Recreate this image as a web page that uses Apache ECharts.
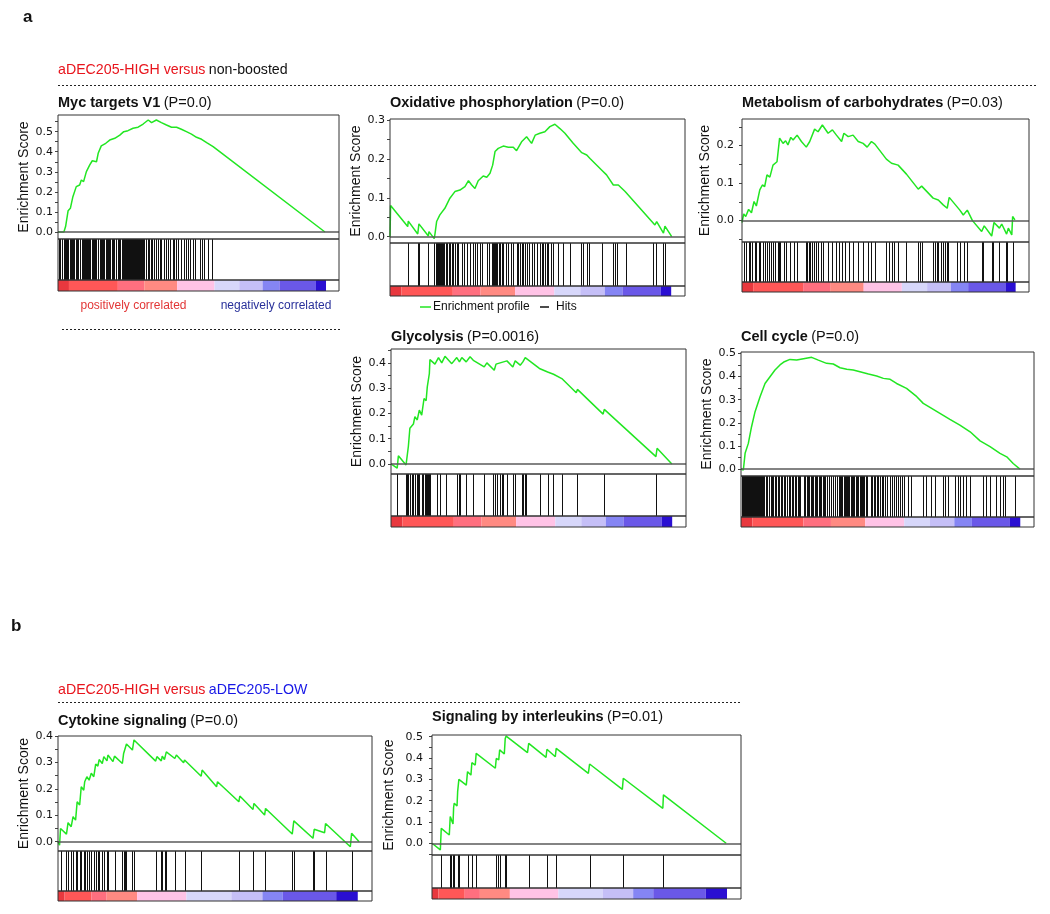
<!DOCTYPE html>
<html>
<head>
<meta charset="utf-8">
<script src="https://cdn.jsdelivr.net/npm/echarts@6/dist/echarts.min.js"></script>
<style>
html,body{margin:0;padding:0;background:#fff;}
#chart{width:1050px;height:914px;}
</style>
</head>
<body>
<div id="chart"></div>
<script>
// ---------------- DATA (x = position in ranked list, % of plot width; y = enrichment score) ----------------
const mycCurve = [[0,0],[2.1,0],[2.7,0.027],[3.6,0.106],[4.4,0.118],[5.3,0.176],[6.5,0.226],[7.7,0.234],[8.3,0.259],[9.1,0.251],[10.1,0.301],[11.3,0.334],[12.2,0.355],[13.7,0.35],[14.3,0.392],[15.4,0.429],[17.0,0.442],[18.4,0.458],[20.2,0.467],[22.0,0.483],[23.4,0.5],[24.9,0.505],[26.7,0.517],[28.5,0.522],[30.3,0.538],[32.1,0.558],[33.3,0.545],[35.0,0.558],[36.8,0.545],[38.6,0.533],[40.4,0.522],[42.2,0.522],[43.9,0.512],[45.7,0.5],[47.5,0.488],[49.3,0.472],[51.1,0.462],[52.9,0.445],[55.2,0.425],[95.0,0]];
const mycHits = [0.4,0.8,1.3,1.6,2.0,2.3,2.5,3.0,3.3,3.5,4.2,4.5,4.9,5.3,5.7,6.3,6.6,7.0,7.7,8.0,8.4,8.8,9.1,9.5,9.9,10.2,10.6,11.1,11.5,12.0,12.3,12.7,13.2,13.7,14.1,14.4,14.8,15.2,15.6,16.1,16.5,17.0,17.4,17.9,18.2,18.6,19.3,19.7,20.1,20.5,20.8,21.2,21.6,22.0,22.7,23.0,23.4,23.8,24.1,24.5,24.8,25.2,25.5,25.9,26.2,26.6,26.9,27.3,27.6,28.0,28.4,28.8,29.1,29.5,29.8,30.3,30.7,31.2,32.0,32.4,33.0,33.6,34.3,35.0,35.5,36.2,36.7,37.9,38.5,39.0,40.0,40.9,41.4,42.1,42.8,43.8,44.7,45.7,46.1,47.1,48.0,48.8,50.4,51.4,52.1,53.5,54.9];

const oxphosCurve = [[0,0],[0.2,0.08],[6.0,0.026],[6.2,0.040],[9.4,0.007],[9.8,0.033],[13.0,0.002],[13.2,0.013],[15.0,-0.005],[15.3,0.01],[15.8,0.039],[16.9,0.056],[18.6,0.073],[20.3,0.099],[22.0,0.116],[23.7,0.12],[25.4,0.129],[26.6,0.144],[27.7,0.133],[28.8,0.124],[29.9,0.144],[31.6,0.156],[32.8,0.153],[33.9,0.163],[34.8,0.184],[35.6,0.219],[36.7,0.227],[38.4,0.233],[40.1,0.23],[41.8,0.23],[42.9,0.221],[44.6,0.244],[46.3,0.257],[48.0,0.24],[49.2,0.261],[50.8,0.266],[52.5,0.27],[54.2,0.283],[55.9,0.289],[57.6,0.278],[59.3,0.266],[62.1,0.24],[65.0,0.216],[66.7,0.21],[67.8,0.201],[71.8,0.171],[73.4,0.159],[75.7,0.133],[77.4,0.133],[79.7,0.116],[89.8,0.03],[90.4,0.039],[92.7,0.009],[93.2,0.027],[95.5,0]];
const oxphosHits = [6.2,9.4,9.8,13.0,15.0,15.5,15.8,16.2,16.5,16.9,17.3,17.6,18.1,18.4,19.0,19.4,19.9,20.3,20.9,21.5,22.0,22.6,23.2,24.3,25.1,26.0,27.1,28.0,28.8,29.6,30.5,31.1,32.8,33.7,34.5,34.8,35.3,35.6,35.9,36.4,36.8,37.3,37.9,38.4,39.3,40.1,40.9,41.8,42.9,43.5,44.1,44.6,45.2,45.8,46.3,47.2,48.0,48.8,49.7,50.8,51.4,52.0,52.5,53.1,53.7,54.5,55.4,57.1,58.8,61.0,64.6,65.3,66.9,67.6,71.8,75.7,76.3,77.1,80.0,89.3,90.2,92.7,93.2];

const metabCurve = [[0,-0.005],[0.6,0.018],[1.3,0.011],[2.3,0.03],[3.3,0.021],[4.2,0.051],[5.0,0.039],[6.2,0.082],[7.1,0.095],[7.9,0.091],[8.7,0.122],[9.7,0.116],[10.8,0.148],[12.2,0.157],[13.1,0.22],[14.3,0.206],[15.2,0.213],[16.0,0.202],[17.0,0.222],[17.8,0.215],[19.2,0.228],[20.7,0.211],[22.4,0.196],[23.6,0.211],[25.3,0.244],[26.5,0.237],[28.0,0.255],[30.0,0.233],[31.5,0.242],[32.9,0.228],[34.7,0.211],[35.5,0.233],[37.0,0.224],[38.7,0.228],[40.5,0.211],[42.2,0.206],[43.6,0.196],[45.1,0.211],[46.3,0.204],[50.3,0.164],[52.1,0.153],[54.4,0.148],[57.3,0.124],[61.4,0.084],[62.6,0.092],[66.6,0.06],[68.4,0.055],[70.1,0.042],[71.5,0.033],[72.2,0.062],[75.9,0.028],[77.1,0.015],[78.5,0.028],[80.3,0],[83.5,-0.029],[84.4,-0.014],[87.0,-0.041],[87.8,-0.005],[89.7,-0.02],[90.5,-0.009],[92.2,-0.036],[92.8,-0.02],[94.0,-0.038],[94.3,0.011],[95.1,0.002]];
const metabHits = [0.6,1.3,2.3,2.9,3.6,4.4,5.0,5.9,6.4,7.3,7.9,8.7,9.3,10.2,10.8,11.6,12.6,12.9,13.1,14.5,15.5,16.6,18.0,19.2,22.2,22.7,23.4,23.8,24.5,25.1,25.7,26.5,27.7,28.3,30.0,31.2,32.7,33.8,34.7,35.8,37.3,38.7,40.5,42.2,44.0,45.1,46.3,50.3,51.3,52.1,52.9,54.4,57.3,61.4,62.0,62.6,66.6,67.2,67.8,68.4,69.2,70.1,70.7,71.3,71.9,74.8,75.9,77.3,78.5,83.5,84.1,87.0,87.6,89.7,92.0,92.2,94.3];

const glycoCurve = [[0,0],[2.1,-0.017],[2.5,0.032],[5.1,-0.004],[5.9,0.071],[6.4,0.141],[7.6,0.158],[8.1,0.187],[8.9,0.174],[9.6,0.213],[10.4,0.193],[11.2,0.259],[11.9,0.25],[12.3,0.305],[13.0,0.358],[13.2,0.413],[14.9,0.395],[16.1,0.421],[17.2,0.4],[18.3,0.426],[20.6,0.397],[22.3,0.421],[23.2,0.404],[24.0,0.421],[25.5,0.404],[26.8,0.424],[27.9,0.41],[31.6,0.384],[32.5,0.4],[35.0,0.371],[35.6,0.395],[37.0,0.4],[39.3,0.408],[41.3,0.384],[42.1,0.408],[43.8,0.391],[44.7,0.404],[45.5,0.421],[50.3,0.378],[53.1,0.364],[55.1,0.355],[57.9,0.338],[62.8,0.282],[63.2,0.295],[71.9,0.197],[72.3,0.216],[89.8,0.029],[90.2,0.062],[95.2,0]];
const glycoHits = [2.1,5.1,5.5,5.9,6.4,7.0,7.6,8.1,8.7,9.3,9.6,10.4,11.0,11.5,11.9,12.3,12.7,13.0,13.2,15.5,16.6,18.7,22.3,22.9,23.4,25.5,27.7,31.6,34.7,35.3,35.9,36.8,37.6,38.1,39.3,41.3,42.1,44.3,44.7,45.5,45.8,50.6,53.1,54.9,57.9,63.0,72.1,89.9];

const cellCurve = [[0,0],[0.8,-0.004],[1.4,0.068],[2.5,0.111],[3.6,0.183],[4.8,0.248],[6.5,0.313],[8.2,0.37],[9.9,0.399],[11.6,0.428],[13.3,0.45],[14.8,0.464],[16.7,0.474],[19.0,0.471],[21.8,0.478],[24.1,0.483],[26.4,0.471],[29.2,0.457],[31.5,0.454],[33.8,0.438],[36.1,0.431],[38.3,0.428],[40.6,0.421],[43.5,0.411],[46.3,0.402],[48.6,0.392],[50.9,0.388],[53.1,0.37],[56.5,0.349],[60.0,0.313],[62.2,0.284],[64.5,0.267],[67.9,0.241],[71.3,0.215],[74.7,0.19],[78.2,0.161],[81.6,0.122],[85.0,0.097],[88.4,0.068],[90.7,0.053],[92.9,0.024],[95.2,0]];
const cellHits = [0.3,0.6,0.9,1.2,1.5,1.8,2.1,2.4,2.7,3.0,3.3,3.6,3.9,4.2,4.5,4.8,5.1,5.4,5.7,6.0,6.3,6.6,6.9,7.2,7.5,7.8,8.4,9.0,9.6,10.1,10.5,11.0,11.6,12.0,12.5,13.1,13.6,14.0,14.6,15.1,15.6,16.3,16.8,17.4,17.9,18.4,18.8,19.3,19.8,20.3,21.5,22.0,22.4,22.9,23.3,23.8,24.2,24.7,25.2,25.6,26.1,26.5,27.0,27.4,27.9,28.3,28.8,29.2,29.9,30.6,31.4,32.2,32.9,33.4,33.8,34.2,34.6,35.0,35.4,35.8,36.2,36.6,37.0,37.4,37.8,38.2,38.6,39.3,39.7,40.1,40.5,40.9,41.3,41.7,42.1,42.5,42.9,44.2,44.7,45.3,45.8,46.4,46.9,47.5,48.0,48.6,49.1,49.7,51.0,51.6,52.3,53.0,53.7,54.4,55.1,55.8,57.0,58.1,62.1,63.3,65.0,66.1,68.9,69.5,70.6,73.0,74.1,74.6,75.8,76.9,78.0,82.6,83.7,84.9,87.1,88.3,89.4,90.0,93.4];

const cytoCurve = [[0,0],[0.5,-0.013],[0.8,0.05],[2.7,0.029],[3.2,0.072],[4.2,0.057],[4.8,0.095],[5.6,0.082],[6.1,0.151],[6.9,0.139],[7.4,0.208],[8.2,0.195],[8.5,0.227],[9.2,0.246],[9.9,0.233],[10.6,0.259],[11.4,0.246],[12.0,0.294],[12.7,0.286],[13.1,0.311],[14.1,0.296],[14.6,0.322],[15.6,0.306],[15.9,0.328],[17.5,0.303],[18.0,0.324],[20.5,0.296],[20.9,0.334],[21.8,0.37],[23.7,0.347],[24.2,0.385],[31.1,0.305],[31.5,0.322],[32.9,0.306],[33.2,0.324],[33.9,0.311],[34.5,0.34],[37.2,0.315],[37.7,0.328],[40.0,0.299],[40.3,0.309],[45.6,0.248],[45.9,0.271],[50.5,0.208],[50.8,0.227],[57.6,0.151],[57.9,0.173],[62.1,0.122],[62.4,0.145],[65.8,0.101],[66.1,0.126],[74.6,0.029],[75.1,0.079],[81.2,0.013],[81.6,0.047],[84.9,0.034],[85.2,0.069],[93.1,-0.019],[93.5,0.032],[95.9,0]];
const cytoHits = [0.8,2.7,3.2,4.2,4.8,5.6,6.1,6.9,7.4,8.2,8.5,9.2,9.9,10.6,11.4,12.0,12.7,13.1,14.1,14.6,15.6,15.9,18.0,20.5,20.9,21.2,21.8,23.7,24.2,31.1,32.9,33.2,34.0,34.5,37.2,40.3,45.6,57.6,62.1,65.8,74.6,75.1,81.2,81.6,85.2,93.5];

const ilCurve = [[0,0],[2.7,-0.031],[3.0,0.07],[5.6,0.039],[5.9,0.125],[6.8,0.091],[7.0,0.169],[7.2,0.188],[8.1,0.175],[8.3,0.242],[8.7,0.3],[11.1,0.273],[11.5,0.336],[12.6,0.32],[12.9,0.378],[14.0,0.367],[14.3,0.422],[20.5,0.352],[20.8,0.398],[21.6,0.391],[21.9,0.438],[23.4,0.419],[23.7,0.492],[24.0,0.503],[30.9,0.425],[31.3,0.469],[36.9,0.403],[37.2,0.441],[39.9,0.406],[40.2,0.445],[50.6,0.328],[51.0,0.372],[61.6,0.253],[61.9,0.305],[74.7,0.164],[74.9,0.227],[95.2,0]];
const ilHits = [3.0,5.7,6.1,6.8,7.2,8.3,8.7,11.5,12.9,14.3,20.8,21.2,21.9,23.7,24.0,31.3,37.2,40.2,51.0,61.9,74.9];

// rank-metric colour bar: segment boundaries (% of width) and colours
const rankColors = ['#e8383e','#ff5757','#ff6f7f','#ff8a82','#ffc3e6','#d7d7fa','#c5bff7','#8585f4','#6a58e8','#2a0fd2','#ffffff'];
const rankBoundsA = [0,3.9,21.3,30.7,42.4,55.7,64.5,72.8,78.8,91.8,95.4,100];
const rankBoundsB = [0,2.1,10.6,15.5,25.2,40.9,55.2,65.1,71.6,88.6,95.5,100];

// tick labels
const ticksMyc = [0,0.1,0.2,0.3,0.4,0.5];
const ticksOxphos = [0,0.1,0.2,0.3];
const ticksMetab = [0,0.1,0.2];
const ticksGlyco = [0,0.1,0.2,0.3,0.4];
const ticksCell = [0,0.1,0.2,0.3,0.4,0.5];
const ticksCyto = [0,0.1,0.2,0.3,0.4];
const ticksIl = [0,0.1,0.2,0.3,0.4,0.5];

// panel titles
const titleNames = ['Myc targets V1','Oxidative phosphorylation','Metabolism of carbohydrates','Glycolysis','Cell cycle','Cytokine signaling','Signaling by interleukins'];
const titlePvals = ['(P=0.0)','(P=0.0)','(P=0.03)','(P=0.0016)','(P=0.0)','(P=0.0)','(P=0.01)'];

// ---------------- LAYOUT ----------------
const FONT = '"Liberation Sans", Arial, sans-serif';
const panels = [
  {curve:mycCurve, hits:mycHits, ticks:ticksMyc, bounds:rankBoundsA, left:58, width:281, top:115, esH:124, hitsH:41, barH:11, yMin:-0.035, yMax:0.583, titleY:103, nameGap:26.5, lm:5},
  {curve:oxphosCurve, hits:oxphosHits, ticks:ticksOxphos, bounds:rankBoundsA, left:390, width:295, top:119, esH:124, hitsH:43, barH:10, yMin:-0.0162, yMax:0.3026, titleY:103, nameGap:24, lm:5},
  {curve:metabCurve, hits:metabHits, ticks:ticksMetab, bounds:rankBoundsA, left:742, width:287, top:119, esH:123, hitsH:40, barH:10, yMin:-0.057, yMax:0.271, titleY:103, nameGap:29.5, lm:8},
  {curve:glycoCurve, hits:glycoHits, ticks:ticksGlyco, bounds:rankBoundsA, left:391, width:295, top:349, esH:125, hitsH:42, barH:11, yMin:-0.040, yMax:0.455, titleY:337, nameGap:25, lm:5},
  {curve:cellCurve, hits:cellHits, ticks:ticksCell, bounds:rankBoundsA, left:741, width:293, top:352, esH:124, hitsH:41, barH:10, yMin:-0.030, yMax:0.506, titleY:337, nameGap:26.5, lm:5},
  {curve:cytoCurve, hits:cytoHits, ticks:ticksCyto, bounds:rankBoundsB, left:58, width:314, top:736, esH:115, hitsH:40, barH:10, yMin:-0.035, yMax:0.400, titleY:721, nameGap:25.5, lm:5},
  {curve:ilCurve, hits:ilHits, ticks:ticksIl, bounds:rankBoundsB, left:432, width:309, top:735, esH:120, hitsH:33, barH:11, yMin:-0.055, yMax:0.508, titleY:717, nameGap:35.5, lm:9}
];

function halfSteps(min, max) {
  const out = [];
  for (let k = Math.ceil(min / 0.05 - 1e-9); k * 0.05 <= max + 1e-9; k++) out.push(+(k * 0.05).toFixed(2));
  return out;
}

const grids = [], xAxes = [], yAxes = [], series = [], graphic = [];
panels.forEach((p, i) => {
  const gi = grids.length;
  const border = {show:true, borderColor:'#333', borderWidth:1, backgroundColor:'transparent', z:10};
  grids.push(Object.assign({left:p.left, top:p.top, width:p.width, height:p.esH}, border));
  grids.push(Object.assign({left:p.left, top:p.top + p.esH, width:p.width, height:p.hitsH}, border));
  grids.push(Object.assign({left:p.left, top:p.top + p.esH + p.hitsH, width:p.width, height:p.barH}, border));
  for (let k = 0; k < 3; k++) xAxes.push({type:'value', gridIndex:gi + k, min:0, max:100, show:false});
  yAxes.push({
    type:'value', gridIndex:gi, min:p.yMin, max:p.yMax,
    name:'Enrichment Score', nameLocation:'middle', nameGap:p.nameGap, nameRotate:90,
    nameTextStyle:{fontFamily:FONT, fontSize:14, color:'#111'},
    axisLine:{show:false}, splitLine:{show:false},
    axisTick:{show:true, customValues:halfSteps(p.yMin, p.yMax), length:3, lineStyle:{color:'#444', width:1}},
    axisLabel:{customValues:p.ticks, formatter:v => v.toFixed(1), fontFamily:'"DejaVu Sans", Verdana, sans-serif', fontSize:11, color:'#111', margin:p.lm}
  });
  yAxes.push({type:'value', gridIndex:gi + 1, min:0, max:1, show:false});
  yAxes.push({type:'value', gridIndex:gi + 2, min:0, max:1, show:false});

  series.push({
    type:'line', xAxisIndex:gi, yAxisIndex:gi, data:p.curve, symbol:'none', showSymbol:false, silent:true, z:4,
    lineStyle:{color:'#22e622', width:1.5},
    markLine:{silent:true, symbol:'none', label:{show:false}, lineStyle:{color:'#5a5a5a', width:1.5, type:'solid'}, data:[{yAxis:0}]}
  });
  series.push({
    type:'custom', xAxisIndex:gi + 1, yAxisIndex:gi + 1, silent:true,
    data:p.hits.map(v => [v]), encode:{x:0},
    renderItem:(params, api) => {
      const x = api.value(0);
      const a = api.coord([x, 0]), b = api.coord([x, 1]);
      const px = Math.round(a[0]) + 0.5;
      return {type:'line', shape:{x1:px, y1:a[1], x2:px, y2:b[1]}, style:{stroke:'#111', lineWidth:1}};
    }
  });
  const segs = [];
  for (let k = 0; k < p.bounds.length - 1; k++) segs.push([p.bounds[k], p.bounds[k + 1], k]);
  series.push({
    type:'custom', xAxisIndex:gi + 2, yAxisIndex:gi + 2, silent:true,
    data:segs, encode:{x:[0, 1]},
    renderItem:(params, api) => {
      const a = api.coord([api.value(0), 1]), b = api.coord([api.value(1), 0]);
      return {type:'rect', shape:{x:a[0], y:a[1], width:b[0] - a[0], height:b[1] - a[1]}, style:{fill:rankColors[api.value(2)]}};
    }
  });

  graphic.push({
    type:'text', x:p.left, y:p.titleY,
    style:{text:'{b|' + titleNames[i] + '} {n|' + titlePvals[i] + '}', fill:'#111', verticalAlign:'middle',
      rich:{b:{fontFamily:FONT, fontSize:14.5, fontWeight:'bold', fill:'#111'}, n:{fontFamily:FONT, fontSize:14.5, fill:'#111'}}}
  });
});

function txt(x, y, text, opts) {
  return {type:'text', x, y, style:Object.assign({text, fontFamily:FONT, fontSize:14, fill:'#111', verticalAlign:'middle'}, opts || {})};
}
function dotted(x1, y, x2) {
  return {type:'line', shape:{x1, y1:y, x2, y2:y}, style:{stroke:'#222', lineWidth:1, lineDash:[2, 2]}};
}
graphic.push(txt(23, 17, 'a', {fontWeight:'bold', fontSize:17}));
graphic.push(txt(11, 626, 'b', {fontWeight:'bold', fontSize:17}));
graphic.push({type:'text', x:58, y:70, style:{text:'{r|aDEC205-HIGH versus} {k|non-boosted}', verticalAlign:'middle',
  rich:{r:{fontFamily:FONT, fontSize:14.2, fill:'#e8141c'}, k:{fontFamily:FONT, fontSize:14.2, fill:'#111'}}}});
graphic.push(dotted(58, 85.5, 1036));
graphic.push(txt(133.5, 306, 'positively correlated', {fontSize:12, fill:'#e23636', align:'center'}));
graphic.push(txt(276, 306, 'negatively correlated', {fontSize:12, fill:'#28309a', align:'center'}));
graphic.push(dotted(62, 329.5, 340));
// legend for oxidative phosphorylation panel
graphic.push({type:'line', shape:{x1:420, y1:307, x2:431, y2:307}, style:{stroke:'#22e622', lineWidth:1.5}});
graphic.push(txt(433, 307, 'Enrichment profile', {fontSize:12}));
graphic.push({type:'line', shape:{x1:540, y1:307, x2:549, y2:307}, style:{stroke:'#111', lineWidth:1.5}});
graphic.push(txt(556, 307, 'Hits', {fontSize:12}));
// section b header
graphic.push({type:'text', x:58, y:690, style:{text:'{r|aDEC205-HIGH versus} {u|aDEC205-LOW}', verticalAlign:'middle',
  rich:{r:{fontFamily:FONT, fontSize:14.2, fill:'#e8141c'}, u:{fontFamily:FONT, fontSize:14.2, fill:'#1717e6'}}}});
graphic.push(dotted(58, 702.5, 740));

const chart = echarts.init(document.getElementById('chart'), null, {renderer:'canvas'});
chart.setOption({
  animation:false,
  backgroundColor:'#fff',
  grid:grids, xAxis:xAxes, yAxis:yAxes, series:series, graphic:graphic
});
</script>
</body>
</html>
